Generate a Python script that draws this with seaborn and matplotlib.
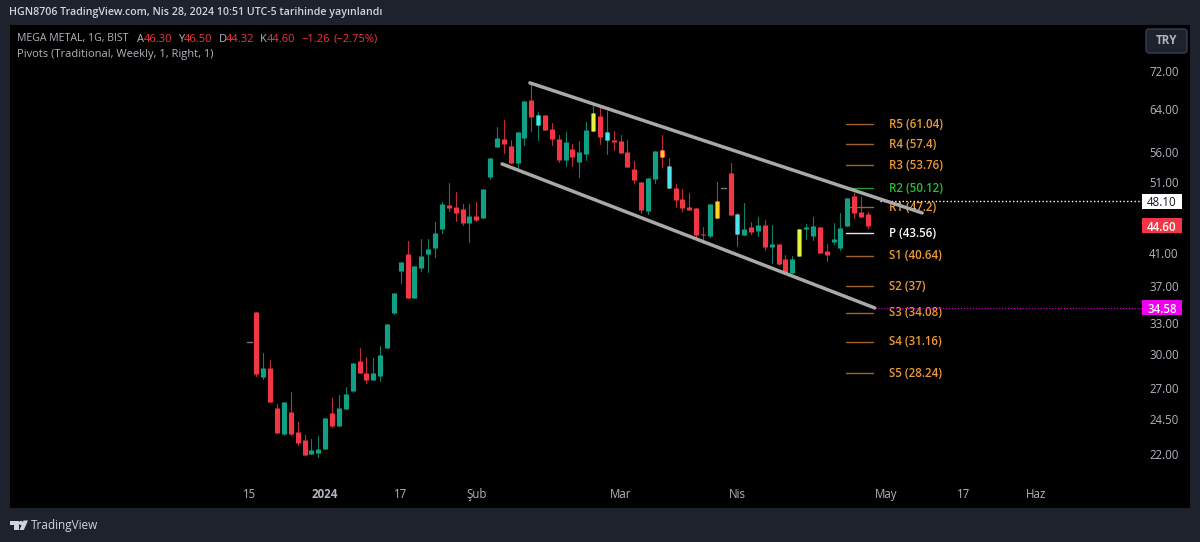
import numpy as np
import pandas as pd
import matplotlib
matplotlib.use('Agg')
import matplotlib.pyplot as plt
from matplotlib.patches import Rectangle, Polygon, Circle, FancyBboxPatch
from matplotlib.ticker import NullLocator
import seaborn as sns

# daily candles, first and 70th are flat sessions
opens = [31.1, 34.14, 27.92, 28.71, 25.37, 23.40, 25.06, 23.55, 22.97, 21.99,
         22.06, 22.34, 24.98, 23.99, 25.29, 26.74, 29.34, 28.27, 27.66, 28.01,
         30.54, 34.04, 38.76, 40.87, 35.65, 39.13, 40.87, 41.63, 44.15, 47.55,
         47.26, 46.97, 44.97, 45.96, 45.67, 51.86, 56.91, 58.33, 57.08, 54.15,
         58.51, 65.82, 60.91, 62.82, 60.17, 58.33, 54.66, 56.56, 54.32, 55.68,
         59.80, 62.63, 58.15, 58.15, 57.97, 56.03, 53.16, 51.06, 46.68, 51.54,
         56.38, 53.65, 50.12, 48.44, 47.26, 47.11, 43.47, 43.20, 48.14, 50.12,
         52.50, 46.25, 43.33, 44.42, 43.88, 44.70, 41.76, 42.13, 40.23, 38.52,
         40.61, 44.15, 43.20, 44.42, 41.24, 42.40, 41.63, 44.56, 48.89, 46.53,
         46.30]
highs = [31.1, 34.14, 30.07, 29.43, 25.68, 25.84, 26.66, 24.29, 23.33, 23.04,
         23.26, 24.59, 26.16, 26.41, 27.07, 29.16, 30.54, 29.71, 29.61, 30.73,
         32.90, 36.21, 39.86, 42.54, 39.37, 42.80, 42.80, 45.11, 47.99, 50.89,
         49.50, 47.70, 47.70, 47.99, 49.97, 55.00, 60.55, 61.87, 58.15, 59.61,
         65.62, 69.58, 63.42, 62.82, 61.30, 59.06, 59.61, 57.44, 57.97, 61.49,
         64.81, 64.81, 63.61, 59.80, 59.06, 58.15, 54.49, 51.06, 51.70, 56.21,
         59.06, 55.00, 50.73, 49.97, 49.34, 47.11, 44.42, 47.70, 51.06, 50.12,
         54.15, 46.39, 47.84, 45.11, 45.82, 45.39, 44.70, 42.13, 40.74, 40.61,
         44.15, 44.84, 45.82, 44.42, 42.13, 44.97, 46.39, 48.59, 49.34, 48.74,
         46.50]
lows = [31.1, 28.01, 27.75, 25.84, 23.47, 23.33, 23.33, 22.62, 21.93, 21.99,
        21.79, 22.34, 23.91, 23.99, 25.29, 26.66, 28.27, 27.41, 27.66, 27.58,
        30.54, 33.94, 37.35, 35.65, 35.65, 38.76, 38.64, 40.48, 43.61, 46.68,
        45.25, 44.70, 42.40, 45.25, 45.67, 51.54, 56.91, 55.85, 54.15, 53.32,
        57.26, 59.80, 58.15, 59.98, 57.26, 54.32, 53.65, 53.65, 51.86, 54.66,
        59.80, 57.44, 55.68, 56.38, 55.85, 53.49, 50.89, 46.39, 46.25, 50.89,
        53.49, 50.12, 47.26, 46.68, 46.82, 42.93, 42.27, 43.07, 45.67, 50.12,
        46.10, 41.89, 43.33, 43.47, 43.20, 41.37, 39.73, 39.60, 38.52, 38.52,
        40.61, 42.80, 42.67, 40.99, 39.98, 42.13, 41.37, 44.56, 45.67, 45.82,
        44.32]
closes = [31.1, 28.18, 28.71, 25.84, 23.47, 25.84, 23.40, 22.76, 21.93, 22.27,
          22.34, 24.59, 23.99, 25.37, 26.49, 29.16, 28.27, 27.66, 28.27, 29.89,
          32.90, 36.21, 39.86, 35.65, 39.37, 40.61, 41.50, 43.61, 47.70, 47.11,
          46.39, 44.97, 45.96, 45.39, 49.97, 55.00, 58.51, 57.44, 54.15, 59.61,
          65.62, 62.44, 62.82, 59.98, 58.33, 54.66, 57.80, 55.17, 56.03, 59.98,
          63.22, 58.69, 59.61, 57.80, 55.85, 53.49, 51.38, 46.82, 51.70, 56.21,
          55.17, 50.12, 48.29, 47.11, 46.82, 43.33, 43.33, 47.70, 45.67, 50.12,
          46.10, 43.47, 44.15, 43.74, 44.70, 41.76, 42.13, 39.60, 38.52, 40.23,
          44.15, 44.42, 44.56, 40.99, 40.74, 42.80, 44.29, 48.59, 46.39, 45.82,
          44.60]

# candles recoloured by the script on the chart
cyan_days = [42, 52, 61, 71]
lime_days = [50, 80]
gold_days = [60, 68]

pivot_names = ['R5', 'R4', 'R3', 'R2', 'R1', 'P', 'S1', 'S2', 'S3', 'S4', 'S5']
pivot_values = [61.04, 57.4, 53.76, 50.12, 47.2, 43.56, 40.64, 37, 34.08, 31.16, 28.24]

price_ticks = [72, 64, 56, 51, 41, 37, 33, 30, 27, 24.5, 22]
date_ticks = [0, 11, 22, 33, 54, 71, 92.6, 104, 114.5]
date_labels = ['15', '2024', '17', 'Şub', 'Mar', 'Nis', 'May', '17', 'Haz']

upper_x, upper_y = [40.8, 97.9], [69.4, 46.4]
lower_x, lower_y = [36.75, 91.0], [54.0, 34.58]

last_close = 44.60
dotted_white = 48.10
dotted_magenta = 34.58

BG = '#1e222d'
GREEN = '#12a085'
RED = '#f23645'
TEXT = '#b2b5be'
FONT = 'Open Sans'
W, H = 1200, 542

sns.set_theme(style='dark', rc={'axes.facecolor': 'black', 'figure.facecolor': BG})
plt.rcParams['font.family'] = [FONT, 'DejaVu Sans']

fig = plt.figure(figsize=(W / 100, H / 100), dpi=100)
ax = fig.add_axes([10 / W, 1 - 484 / H, 1132 / W, 459 / H], zorder=2)
fig.add_artist(Rectangle((10 / W, 1 - 508 / H), 1180 / W, 483 / H, transform=fig.transFigure,
                         fc='black', ec='none', zorder=0))
ax.set_yscale('log')

df = pd.DataFrame({'o': opens, 'h': highs, 'l': lows, 'c': closes})
df['k'] = df.index
df['side'] = np.where(df.c >= df.o, 'up', 'down')
flat = df[df.h == df.l]
df = df[df.h != df.l]
colors = {'up': GREEN, 'down': RED}

wicks = df.melt(id_vars=['k', 'side'], value_vars=['h', 'l'], value_name='price')
bodies = df.melt(id_vars=['k', 'side'], value_vars=['o', 'c'], value_name='price')

sns.lineplot(data=wicks, x='k', y='price', units='k', estimator=None, hue='side', palette=colors,
             linewidth=0.8, alpha=0.8, legend=False, ax=ax, zorder=3)
sns.lineplot(data=bodies, x='k', y='price', units='k', estimator=None, hue='side', palette=colors,
             linewidth=3.7, solid_capstyle='butt', legend=False, ax=ax, zorder=4)

for days, col in [(cyan_days, '#4fe3f0'), (lime_days, '#e6f23c'), (gold_days, '#ffd21f')]:
    sub = bodies[bodies.k.isin(days)]
    sns.lineplot(data=sub, x='k', y='price', units='k', estimator=None, color=col,
                 linewidth=2.4, solid_capstyle='butt', legend=False, ax=ax, zorder=5)

for _, row in flat.iterrows():
    sns.lineplot(x=[row.k - 0.4, row.k + 0.4], y=[row.c, row.c], color='#787b86', linewidth=1,
                 ax=ax, zorder=4)

# channel drawn by hand on the chart
for xs, ys in [(upper_x, upper_y), (lower_x, lower_y)]:
    sns.lineplot(x=xs, y=ys, color='#a9a9a9', linewidth=2.5, solid_capstyle='round', ax=ax, zorder=7)

# pivots
for name, val in zip(pivot_names, pivot_values):
    if name == 'R2':
        line_c, text_c = '#1f9e2c', '#22c32e'
    elif name == 'P':
        line_c, text_c = '#e8e8e8', '#ffffff'
    else:
        line_c, text_c = '#a0622a', '#f09a37'
    sns.lineplot(x=[86.8, 90.7], y=[val, val], color=line_c, linewidth=1, ax=ax, zorder=3.5)
    ax.text(93.07, val, f'{name} ({val})', color=text_c, fontsize=8.3, va='center', ha='left',
            weight='semibold', zorder=2.5)

sns.lineplot(x=[91.8, 130], y=[dotted_white, dotted_white], color='white', linewidth=1,
             linestyle=':', ax=ax, zorder=6)
sns.lineplot(x=[91.0, 130], y=[dotted_magenta, dotted_magenta], color='#d400d4', linewidth=0.8,
             linestyle=':', ax=ax, zorder=6)

ax.set_xlim((10 - 249.6) / 6.87, (1142 - 249.6) / 6.87)
ax.set_ylim(20.05, 83.02)
ax.set_xlabel('')
ax.set_ylabel('')
for s in ax.spines.values():
    s.set_visible(False)
ax.grid(False)

ax.yaxis.tick_right()
ax.yaxis.set_minor_locator(NullLocator())
ax.set_yticks(price_ticks)
ax.set_yticklabels([f'{p:.2f}' for p in price_ticks], color=TEXT, fontsize=8.3)
ax.set_xticks(date_ticks)
ax.set_xticklabels(date_labels, color=TEXT, fontsize=8.3)
ax.tick_params(axis='y', length=0, pad=5.2)
ax.tick_params(axis='x', length=0, pad=3.2)
ax.get_xticklabels()[1].set_fontweight('bold')


def tag(price, fc, tc, label):
    ypx = ax.transData.transform((0, price))[1]
    fig.add_artist(Rectangle((1142, ypx - 7.5), 40, 15, transform=None, fc=fc, ec='none', zorder=8))
    fig.text(1162 / W, ypx / H, label, color=tc, fontsize=8.3, ha='center', va='center_baseline',
             zorder=9, weight='semibold' if tc == 'white' else 'normal')


fig.canvas.draw()
tag(dotted_white, 'white', '#131722', f'{dotted_white:.2f}')
tag(last_close, RED, 'white', f'{last_close:.2f}')
tag(dotted_magenta, '#ee00ee', 'white', f'{dotted_magenta:.2f}')

# TRY button
fig.add_artist(FancyBboxPatch((1148, H - 51), 37, 20, boxstyle='round,pad=2,rounding_size=3', transform=None,
                              fc=BG, ec='#3a3e4a', lw=1, zorder=8))
fig.text(1166.5 / W, 1 - 41 / H, 'TRY', color=TEXT, fontsize=8.3, weight='bold', ha='center', va='center', zorder=9)

# header
fig.text(9 / W, 1 - 13 / H, 'HGN8706 TradingView.com, Nis 28, 2024 10:51 UTC-5 tarihinde yayınlandı',
         color='#d1d4dc', fontsize=7.65, weight='semibold', va='center')

# legend line
legend_parts = [(17, 'MEGA METAL, 1G, BIST', TEXT, 7.6), (137, 'A', TEXT, 8), (144, '46.30', RED, 8), (178, 'Y', TEXT, 8),
                (184, '46.50', RED, 8), (219, 'D', TEXT, 8), (226, '44.32', RED, 8), (260, 'K', TEXT, 8),
                (267, '44.60', RED, 8), (301, '−1.26', RED, 8), (333, '(−2.75%)', RED, 8)]
for xp, s, c, fs in legend_parts:
    fig.text(xp / W, 1 - 39 / H, s, color=c, fontsize=fs, va='center', zorder=9)
fig.text(17 / W, 1 - 55 / H, 'Pivots (Traditional, Weekly, 1, Right, 1)', color=TEXT, fontsize=8.0,
         va='center', zorder=9)

# footer logo
logo_c = '#d1d4dc'
fig.add_artist(Polygon([(9.5, H - 520.5), (18.5, H - 520.5), (18.5, H - 530), (14, H - 530), (14, H - 525), (9.5, H - 525)],
                       closed=True, transform=None, fc=logo_c, ec='none'))
fig.add_artist(Circle((21, H - 523), 2.1, transform=None, fc=logo_c, ec='none'))
fig.add_artist(Polygon([(28, H - 520.5), (23.8, H - 530), (19.5, H - 530), (23.5, H - 520.5)],
                       closed=True, transform=None, fc=logo_c, ec='none'))
fig.text(31 / W, 1 - 525 / H, 'TradingView', color=logo_c, fontsize=8.5, weight='medium', va='center')

fig.savefig('out.png', dpi=100, facecolor=BG)
